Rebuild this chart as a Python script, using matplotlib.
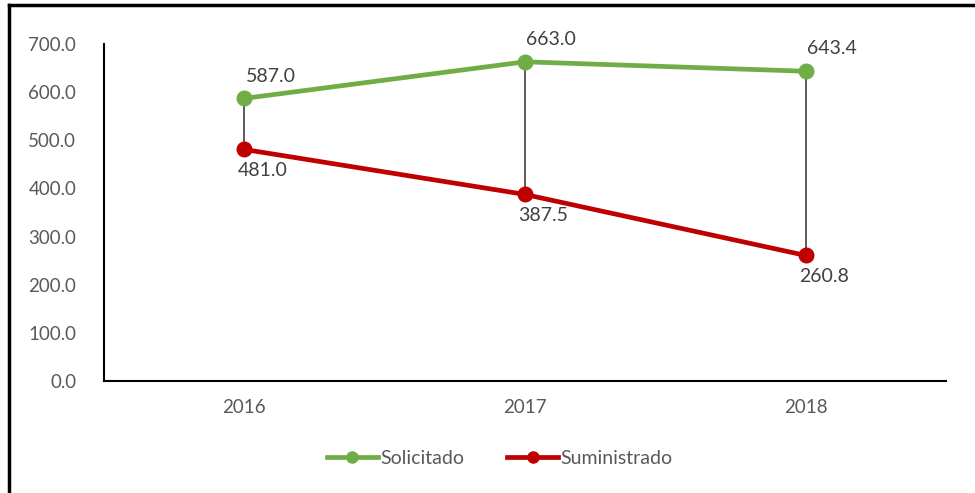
import matplotlib.pyplot as plt
from matplotlib.lines import Line2D

years = ["2016", "2017", "2018"]
solicitado = [587.0, 663.0, 643.4]
suministrado = [481.0, 387.5, 260.8]

plt.rcParams['font.family'] = ['Lato', 'DejaVu Sans']

green = "#70AD47"
red = "#C00000"
grey = "#595959"

fig = plt.figure(figsize=(9.75, 4.93), dpi=100)
ax = fig.add_axes([104 / 975, 1 - 381 / 493, 842 / 975, 337 / 493])

x = list(range(len(years)))

# high-low lines
for i in x:
    ax.plot([i, i], [suministrado[i], solicitado[i]], color="#404040", lw=1.2, zorder=2)

ax.plot(x, solicitado, color=green, lw=3.4, marker="o", ms=10.5, zorder=3,
        solid_capstyle="round")
ax.plot(x, suministrado, color=red, lw=3.4, marker="o", ms=10.5, zorder=3,
        solid_capstyle="round")

for i in x:
    ax.annotate(f"{solicitado[i]:.1f}", (i, solicitado[i]), xytext=(1, 10),
                textcoords="offset points", ha="left", va="bottom",
                fontsize=14, color="#404040")
    ax.annotate(f"{suministrado[i]:.1f}", (i, suministrado[i]), xytext=(-5, -9),
                textcoords="offset points", ha="left", va="top",
                fontsize=14, color="#404040")

ax.set_xlim(-0.5, 2.5)
ax.set_ylim(0, 700)
ax.set_yticks(range(0, 701, 100))
ax.set_yticklabels([f"{v:.1f}" for v in range(0, 701, 100)])
ax.set_xticks(x)
ax.set_xticklabels(years)
ax.tick_params(length=0, labelsize=13.5, colors=grey, pad=13)
ax.tick_params(axis="y", pad=20)
for s in ["top", "right"]:
    ax.spines[s].set_visible(False)
for s in ["left", "bottom"]:
    ax.spines[s].set_linewidth(1.5)

handles = [
    Line2D([], [], color=green, lw=3.4, marker="o", ms=8),
    Line2D([], [], color=red, lw=3.4, marker="o", ms=8),
]
fig.legend(handles, ["Solicitado", "Suministrado"], loc="center",
           bbox_to_anchor=(500 / 975, 1 - 458 / 493), ncol=2, frameon=False,
           fontsize=14, labelcolor=grey, handlelength=2.6, handletextpad=0.15,
           columnspacing=2.2)

# chart frame (left and top edges visible)
fig.add_artist(Line2D([9 / 975, 9 / 975], [0, 1 - 5 / 493], color="black", lw=2.5,
                      transform=fig.transFigure))
fig.add_artist(Line2D([9 / 975, 1], [1 - 5 / 493, 1 - 5 / 493], color="black", lw=2.5,
                      transform=fig.transFigure))

fig.savefig("out.png", dpi=100)
